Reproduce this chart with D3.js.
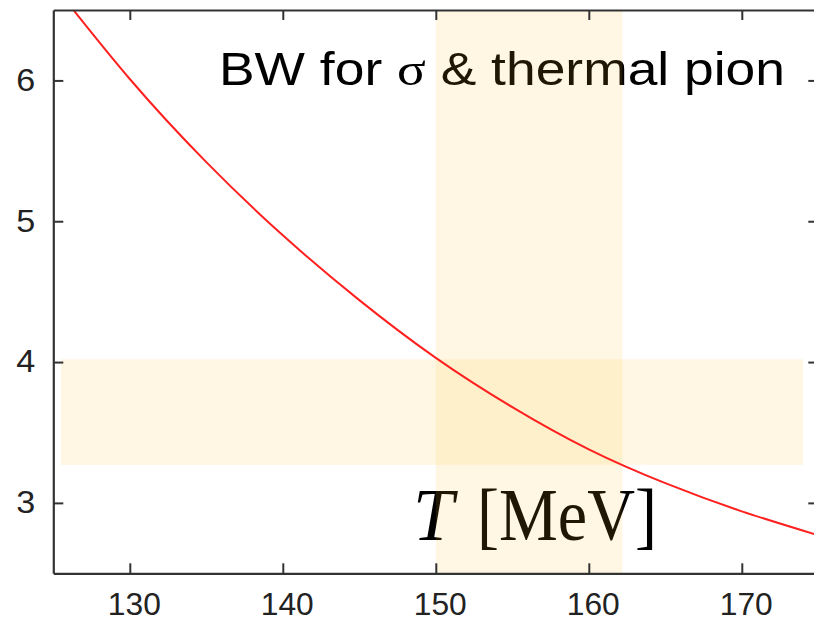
<!DOCTYPE html>
<html>
<head>
<meta charset="utf-8">
<script src="https://cdn.jsdelivr.net/npm/d3@7"></script>
<style>
  html, body { margin: 0; padding: 0; background: #fff; }
  svg { display: block; }
</style>
</head>
<body>
<svg id="chart" width="814" height="621"></svg>
<script>
// Temperature samples (MeV) and the BW ratio
const temperatures = [125, 130, 135, 140, 145, 150, 155, 160, 165, 170, 175];
const ratioValues  = [6.68, 6.01, 5.42, 4.90, 4.44, 4.03, 3.68, 3.38, 3.14, 2.94, 2.77];

// Tick values
const xTicks = [130, 140, 150, 160, 170];
const yTicks = [3, 4, 5, 6];

// Highlighted ranges: temperature window and ratio window
const tempBand  = [150, 162.2];
const ratioBand = [3.27, 4.02];
const ratioBandSpan = [125.5, 174];

const xDomain = [125, 175];
const yDomain = [2.5, 6.5];

const svg = d3.select("#chart");
const plotLeft = 53.3, plotRight = 818.3, plotTop = 10, plotBottom = 573.3;

const x = d3.scaleLinear().domain(xDomain).range([plotLeft, plotRight]);
const y = d3.scaleLinear().domain(yDomain).range([plotBottom, plotTop]);

svg.append("defs").append("clipPath").attr("id", "plotClip")
  .append("rect").attr("x", plotLeft).attr("y", plotTop)
  .attr("width", plotRight - plotLeft).attr("height", plotBottom - plotTop);

// Title annotation
const title = svg.append("text")
  .attr("x", 219).attr("y", 85)
  .attr("font-family", "Liberation Sans, Arial, sans-serif")
  .attr("font-size", 47)
  .attr("textLength", 566)
  .attr("lengthAdjust", "spacingAndGlyphs")
  .attr("fill", "#000");
title.append("tspan").text("BW for ");
title.append("tspan").attr("font-family", "Liberation Serif, Times New Roman, serif").text("σ");
title.append("tspan").text(" & thermal pion");

// Axis label: italic T followed by the unit in brackets
svg.append("text")
  .attr("x", 413).attr("y", 540)
  .attr("font-family", "Liberation Serif, Times New Roman, serif")
  .attr("font-style", "italic")
  .attr("font-size", 73)
  .attr("fill", "#000")
  .text("T");
svg.append("text")
  .attr("x", 477).attr("y", 540)
  .attr("font-family", "Liberation Serif, Times New Roman, serif")
  .attr("font-size", 74)
  .attr("textLength", 180)
  .attr("lengthAdjust", "spacingAndGlyphs")
  .attr("fill", "#000")
  .text("[MeV]");

// Bands drawn semi-transparent so the overlap deepens
const bandColor = "rgb(255,188,30)";
const bandOpacity = 0.12;
svg.append("rect")
  .attr("x", x(tempBand[0])).attr("y", plotTop)
  .attr("width", x(tempBand[1]) - x(tempBand[0]))
  .attr("height", plotBottom - plotTop)
  .attr("fill", bandColor).attr("fill-opacity", bandOpacity);
svg.append("rect")
  .attr("x", x(ratioBandSpan[0])).attr("y", y(ratioBand[1]))
  .attr("width", x(ratioBandSpan[1]) - x(ratioBandSpan[0]))
  .attr("height", y(ratioBand[0]) - y(ratioBand[1]))
  .attr("fill", bandColor).attr("fill-opacity", bandOpacity);

// Curve
const pts = temperatures.map((t, i) => [t, ratioValues[i]]);
const line = d3.line().x(d => x(d[0])).y(d => y(d[1])).curve(d3.curveNatural);
svg.append("path")
  .datum(pts)
  .attr("clip-path", "url(#plotClip)")
  .attr("d", line)
  .attr("fill", "none")
  .attr("stroke", "#ff2020")
  .attr("stroke-width", 2);

// Frame and axes with inward ticks on all four sides
const axisColor = "#333";
const tickLen = 10;
const bottomAxis = d3.axisBottom(x).tickValues(xTicks).tickSizeInner(-tickLen).tickSizeOuter(0)
  .tickPadding(20).tickFormat(d3.format("d"));
const topAxis = d3.axisTop(x).tickValues(xTicks).tickSizeInner(-tickLen).tickSizeOuter(0).tickFormat("");
const leftAxis = d3.axisLeft(y).tickValues(yTicks).tickSizeInner(-tickLen).tickSizeOuter(0)
  .tickPadding(18).tickFormat(d3.format("d"));
const rightAxis = d3.axisRight(y).tickValues(yTicks).tickSizeInner(-tickLen).tickSizeOuter(0).tickFormat("");

function styleAxis(g) {
  g.select(".domain").attr("stroke", axisColor).attr("stroke-width", 2.2);
  g.selectAll(".tick line").attr("stroke", axisColor).attr("stroke-width", 2);
  g.selectAll(".tick text")
    .attr("font-family", "Liberation Sans, Arial, sans-serif")
    .attr("font-size", 31)
    .attr("lengthAdjust", "spacingAndGlyphs")
    .attr("fill", "#222");
}

svg.append("g").attr("transform", `translate(0,${plotBottom})`).call(bottomAxis).call(styleAxis)
  .selectAll(".tick text").attr("dx", 4).attr("textLength", 53);
svg.append("g").attr("transform", `translate(0,${plotTop})`).call(topAxis).call(styleAxis);
svg.append("g").attr("transform", `translate(${plotLeft},0)`).call(leftAxis).call(styleAxis)
  .selectAll(".tick text").attr("textLength", 19);
svg.append("g").attr("transform", `translate(${plotRight},0)`).call(rightAxis).call(styleAxis);
</script>
</body>
</html>
